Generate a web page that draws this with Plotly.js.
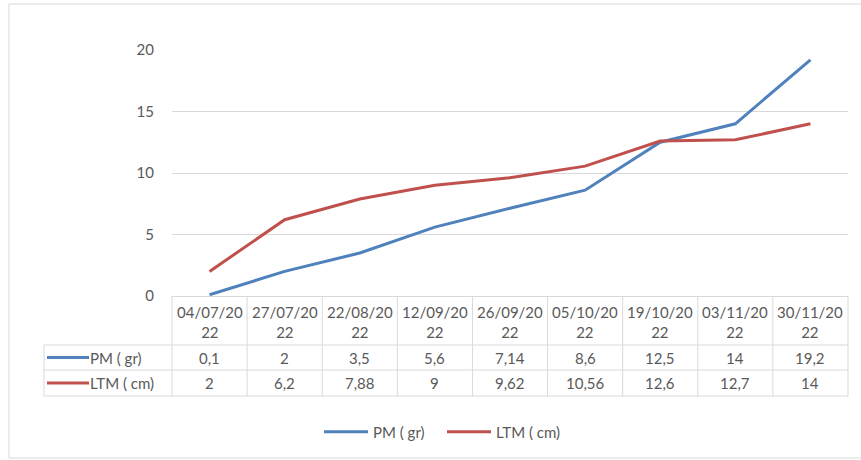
<!DOCTYPE html>
<html>
<head>
<meta charset="utf-8">
<script src="https://cdn.plot.ly/plotly-3.0.1.min.js"></script>
<style>html,body{margin:0;padding:0;background:#fff;}#chart{width:861px;height:460px;}</style>
</head>
<body>
<div id="chart"></div>
<script>
// ---- data ----
const dates = ["04/07/2022","27/07/2022","22/08/2022","12/09/2022","26/09/2022","05/10/2022","19/10/2022","03/11/2022","30/11/2022"];
const pm = [0.1, 2, 3.5, 5.6, 7.14, 8.6, 12.5, 14, 19.2];
const ltm = [2, 6.2, 7.88, 9, 9.62, 10.56, 12.6, 12.7, 14];
const seriesNames = ["PM ( gr)", "LTM ( cm)"];
const yTicks = [0, 5, 10, 15, 20];

// ---- layout helpers (pixel -> paper) ----
const W = 861, H = 460;
const L = 172, R = 848, T = 50, B = 296;
const px = x => (x - L) / (R - L);
const py = y => (B - y) / (B - T);
const BLUE = "#4F81BD", RED = "#C0504D";
const TXT = "#595959", GRID = "#D9D9D9";
const FONT = "Lato, 'Open Sans', sans-serif";
const FS = 15;
const fmt = v => String(v).replace('.', ',');

const traces = [
  {x: dates, y: pm, name: seriesNames[0], type: "scatter", mode: "lines",
   line: {color: BLUE, width: 3}},
  {x: dates, y: ltm, name: seriesNames[1], type: "scatter", mode: "lines",
   line: {color: RED, width: 3}}
];

const shapes = [];
const annotations = [];
const n = dates.length;
const hdrBot = 345, row1Bot = 370, row2Bot = 396, tblLeft = 44;

// outer frame
shapes.push({type: "rect", xref: "paper", yref: "paper",
  x0: px(9), x1: px(870), y0: py(4), y1: py(458),
  line: {color: "#D9D9D9", width: 1}, fillcolor: "rgba(0,0,0,0)", layer: "below"});

// table horizontal lines
[hdrBot, row1Bot, row2Bot].forEach(yy => {
  shapes.push({type: "line", xref: "paper", yref: "paper",
    x0: px(tblLeft), x1: 1, y0: py(yy), y1: py(yy), line: {color: GRID, width: 1}});
});
// table vertical lines (column boundaries)
for (let i = 0; i <= n; i++) {
  shapes.push({type: "line", xref: "paper", yref: "paper",
    x0: i / n, x1: i / n, y0: 0, y1: py(row2Bot), line: {color: GRID, width: 1}});
}
shapes.push({type: "line", xref: "paper", yref: "paper",
  x0: px(tblLeft), x1: px(tblLeft), y0: py(hdrBot), y1: py(row2Bot), line: {color: GRID, width: 1}});

// header date labels
dates.forEach(d => {
  annotations.push({xref: "x", yref: "paper", x: d, y: py((296 + hdrBot) / 2 + 1),
    xanchor: "center", yanchor: "middle",
    text: d.slice(0, 8) + "<br>" + d.slice(8), showarrow: false,
    font: {family: FONT, size: FS, color: TXT}, align: "center"});
});
// value rows
[[pm, (hdrBot + row1Bot) / 2], [ltm, (row1Bot + row2Bot) / 2]].forEach(([vals, yy]) => {
  vals.forEach((v, i) => {
    annotations.push({xref: "x", yref: "paper", x: dates[i], y: py(yy),
      xanchor: "center", yanchor: "middle",
      text: fmt(v), showarrow: false, font: {family: FONT, size: FS, color: TXT}});
  });
});
// series keys in table
[[seriesNames[0], BLUE, (hdrBot + row1Bot) / 2], [seriesNames[1], RED, (row1Bot + row2Bot) / 2]].forEach(([nm, c, yy]) => {
  shapes.push({type: "line", xref: "paper", yref: "paper",
    x0: px(47), x1: px(89), y0: py(yy), y1: py(yy), line: {color: c, width: 3}});
  annotations.push({xref: "paper", yref: "paper", x: px(88), y: py(yy), xanchor: "left", yanchor: "middle",
    text: nm, showarrow: false, font: {family: FONT, size: FS, color: TXT}});
});

const layout = {
  width: W, height: H,
  margin: {l: L, r: W - R, t: T, b: H - B, pad: 0},
  paper_bgcolor: "#fff", plot_bgcolor: "#fff",
  showlegend: true,
  legend: {orientation: "h", x: px(319), xanchor: "left", y: py(432), yanchor: "middle",
    font: {family: FONT, size: FS, color: TXT}, itemwidth: 44, traceorder: "normal",
    entrywidth: 64, entrywidthmode: "pixels"},
  xaxis: {type: "category", range: [-0.5, n - 0.5], showticklabels: false, showgrid: false,
    zeroline: false, showline: true, linecolor: GRID, linewidth: 1, fixedrange: true},
  yaxis: {range: [0, 20], tickvals: yTicks, ticktext: yTicks.map(String), showgrid: true,
    gridcolor: GRID, gridwidth: 1, zeroline: false, showline: false, ticks: "",
    ticklabelstandoff: 17, tickfont: {family: FONT, size: FS, color: TXT}, fixedrange: true},
  shapes: shapes,
  annotations: annotations
};

Plotly.newPlot("chart", traces, layout, {displayModeBar: false, staticPlot: true});
</script>
</body>
</html>
